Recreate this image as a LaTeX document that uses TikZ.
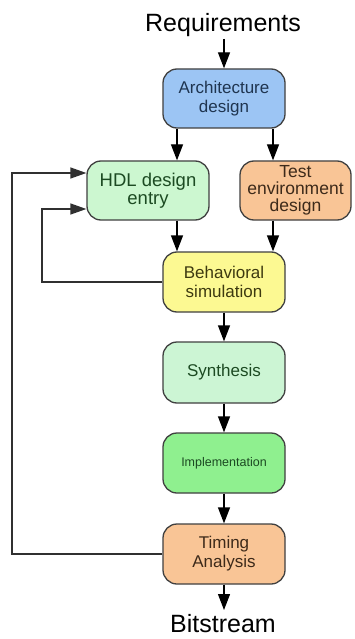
\documentclass[tikz,border=0pt]{standalone}
\usepackage{fontspec}
\setmainfont{Liberation Sans}
\usetikzlibrary{arrows.meta,calc}
\definecolor{archfill}{HTML}{9CC5F4}
\definecolor{archtext}{HTML}{1F3550}
\definecolor{hdlfill}{HTML}{CCF7D0}
\definecolor{hdltext}{HTML}{1C4A22}
\definecolor{peach}{HTML}{F9C596}
\definecolor{peachtext}{HTML}{3D2A1A}
\definecolor{behfill}{HTML}{FCF992}
\definecolor{behtext}{HTML}{3D3A10}
\definecolor{synfill}{HTML}{CCF5D4}
\definecolor{impfill}{HTML}{8FF08F}
\definecolor{boxline}{HTML}{404040}
\definecolor{wireline}{HTML}{303030}
\tikzset{
  flowbox/.style={draw=boxline, line width=1.3pt, rounded corners=14pt,
    inner sep=0pt, minimum width=122pt, minimum height=60pt,
    align=center, font=\fontsize{17}{19}\selectfont},
  arr/.style={draw=black, line width=1.3pt, -{Triangle[length=16pt,width=12pt]}},
  wire/.style={draw=wireline, line width=1.3pt, -{Triangle[length=16pt,width=11pt]}},
  endtext/.style={font=\fontsize{25}{27}\selectfont, anchor=base, inner sep=0pt}
}
\begin{document}
\begin{tikzpicture}[x=1pt,y=-1pt]
\useasboundingbox (0,0) rectangle (354,639);
\fill[white] (0,0) rectangle (354,639);

\node[endtext] (req) at (223,32) {Requirements};
\node[endtext] (bit) at (223,632) {Bitstream};

\node[flowbox, fill=archfill, text=archtext, minimum height=59pt] (arch) at (224,98.5) {Architecture\\design};
\node[flowbox, fill=hdlfill, text=hdltext, minimum height=59pt, font=\fontsize{18.5}{18}\selectfont] (hdl) at (148,190.5) {HDL design\\entry};
\node[flowbox, fill=peach, text=peachtext, minimum height=59pt, minimum width=111pt, font=\fontsize{17.5}{17}\selectfont] (test) at (295.5,190.5) {Test\\environment\\design};
\node[flowbox, fill=behfill, text=behtext] (beh) at (224,282) {Behavioral\\simulation};
\node[flowbox, fill=synfill, text=hdltext, minimum height=61pt] (syn) at (224,372.5) {Synthesis};
\node[flowbox, fill=impfill, text=hdltext, font=\fontsize{12.5}{14}\selectfont] (imp) at (224,463) {Implementation};
\node[flowbox, fill=peach, text=peachtext] (tim) at (224,554) {Timing\\Analysis};

\coordinate (lx) at (177,0);
\coordinate (rx) at (273,0);
\coordinate (o1) at (12,0);
\coordinate (o2) at (42,0);
\coordinate (reqend) at (0,39);
\coordinate (bitend) at (0,610);

\draw[arr] (arch.north |- reqend) -- (arch.north);
\draw[arr] (arch.south -| lx) -- (hdl.north -| lx);
\draw[arr] (arch.south -| rx) -- (test.north -| rx);
\draw[arr] (hdl.south -| lx) -- (beh.north -| lx);
\draw[arr] (test.south -| rx) -- (beh.north -| rx);
\draw[arr] (beh) -- (syn);
\draw[arr] (syn) -- (imp);
\draw[arr] (imp) -- (tim);
\draw[arr] (tim.south) -- (tim.south |- bitend);

\draw[wire] (tim.west) -- (tim.west -| o1) |- ($(hdl.west)+(0,-17.5)$);
\draw[wire] (beh.west) -- (beh.west -| o2) |- ($(hdl.west)+(0,18.5)$);
\end{tikzpicture}
\end{document}
